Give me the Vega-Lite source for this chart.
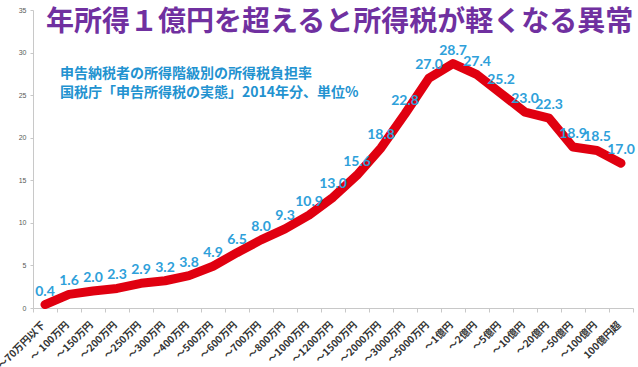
{
  "$schema": "https://vega.github.io/schema/vega-lite/v6.json",
  "width": 600,
  "height": 298,
  "autosize": {"type": "none"},
  "padding": {"left": 33, "top": 10, "right": 5, "bottom": 59},
  "background": "white",
  "config": {"view": {"stroke": null}},
  "title": {
    "text": "年所得１億円を超えると所得税が軽くなる異常",
    "subtitle": ["\u200b\u3000申告納税者の所得階級別の所得税負担率", "\u200b\u3000国税庁「申告所得税の実態」2014年分、単位%"],
    "anchor": "start",
    "frame": "group",
    "orient": "top",
    "offset": -94,
    "dx": 13,
    "font": "Noto Sans CJK JP",
    "fontSize": 28,
    "fontWeight": "bold",
    "color": "#7030a0",
    "subtitleFont": "Noto Sans CJK JP",
    "subtitleFontSize": 14,
    "subtitleFontWeight": "bold",
    "subtitleColor": "#2292d0",
    "subtitlePadding": 30,
    "subtitleLineHeight": 19
  },
  "data": {
    "values": [
      {"bracket": "～70万円以下", "rate": 0.4},
      {"bracket": "～ 100万円", "rate": 1.6},
      {"bracket": "～150万円", "rate": 2.0},
      {"bracket": "～200万円", "rate": 2.3},
      {"bracket": "～250万円", "rate": 2.9},
      {"bracket": "～300万円", "rate": 3.2},
      {"bracket": "～400万円", "rate": 3.8},
      {"bracket": "～500万円", "rate": 4.9},
      {"bracket": "～600万円", "rate": 6.5},
      {"bracket": "～700万円", "rate": 8.0},
      {"bracket": "～800万円", "rate": 9.3},
      {"bracket": "～1000万円", "rate": 10.9},
      {"bracket": "～1200万円", "rate": 13.0},
      {"bracket": "～1500万円", "rate": 15.6},
      {"bracket": "～2000万円", "rate": 18.8},
      {"bracket": "～3000万円", "rate": 22.8},
      {"bracket": "～5000万円", "rate": 27.0},
      {"bracket": "～1億円", "rate": 28.7},
      {"bracket": "～2億円", "rate": 27.4},
      {"bracket": "～5億円", "rate": 25.2},
      {"bracket": "～10億円", "rate": 23.0},
      {"bracket": "～20億円", "rate": 22.3},
      {"bracket": "～50億円", "rate": 18.9},
      {"bracket": "～100億円", "rate": 18.5},
      {"bracket": "100億円超", "rate": 17.0}
    ]
  },
  "encoding": {
    "x": {
      "field": "bracket",
      "type": "nominal",
      "sort": null,
      "scale": {"type": "band", "paddingInner": 0, "paddingOuter": 0},
      "axis": {
        "title": null,
        "tickBand": "extent",
        "labelAngle": -45,
        "labelAlign": "right",
        "labelBaseline": "middle",
        "labelFont": "Noto Sans CJK JP",
        "labelFontSize": 10,
        "labelFontWeight": "bold",
        "labelColor": "#333333",
        "labelPadding": 11,
        "labelOffset": -2,
        "domainColor": "#c8c8c8",
        "tickColor": "#c8c8c8",
        "tickSize": 4,
        "grid": false
      }
    },
    "y": {
      "field": "rate",
      "type": "quantitative",
      "scale": {"domain": [0, 35], "nice": false},
      "axis": {
        "title": null,
        "values": [0, 5, 10, 15, 20, 25, 30, 35],
        "labelFont": "Liberation Sans",
        "labelFontSize": 7,
        "labelColor": "#595959",
        "labelPadding": 4,
        "domainColor": "#c8c8c8",
        "tickColor": "#c8c8c8",
        "tickSize": 3,
        "grid": false
      }
    }
  },
  "layer": [
    {
      "mark": {"type": "line", "color": "#e00010", "strokeWidth": 9, "strokeCap": "round", "strokeJoin": "round"}
    },
    {
      "mark": {"type": "text", "dy": -13, "font": "Lato", "fontSize": 14, "fontWeight": "bold", "color": "#2ea0da"},
      "encoding": {"text": {"field": "rate", "type": "quantitative", "format": ".1f"}}
    }
  ]
}
